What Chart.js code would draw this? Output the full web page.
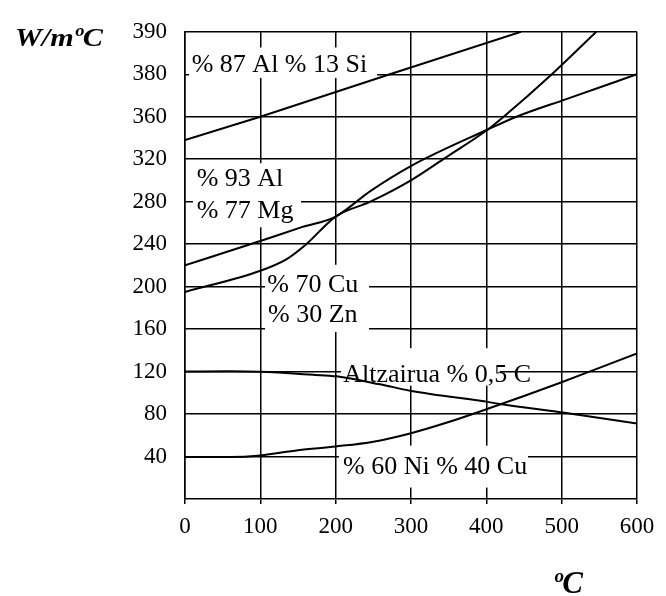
<!DOCTYPE html>
<html>
<head>
<meta charset="utf-8">
<script src="https://cdn.jsdelivr.net/npm/chart.js@4/dist/chart.umd.min.js"></script>
<style>
  html, body { margin: 0; padding: 0; background: #fff; }
  #wrap { width: 666px; height: 596px; }
</style>
</head>
<body>
<div id="wrap"><canvas id="chart" width="666" height="596"></canvas></div>
<script>
// Temperature axis (ºC) and conductivity axis (W/mºC) tick labels
const temperatureTicks = [0, 100, 200, 300, 400, 500, 600];
const conductivityTicks = [40, 80, 120, 160, 200, 240, 280, 320, 360, 380, 390];

// % 87 Al % 13 Si
const alSiTemp = [0, 100, 272, 446];
const alSiK    = [338, 360, 380, 390];

// % 93 Al % 77 Mg
const alMgTemp = [0, 100, 155, 200, 246, 301, 402, 440, 507, 600];
const alMgK    = [220, 243, 256, 266, 290, 314, 348, 360, 368.4, 380];

// % 70 Cu % 30 Zn
const cuZnTemp = [0, 100, 135, 161, 200, 246, 301, 347, 402, 423, 487, 546];
const cuZnK    = [195, 215, 226, 240, 266, 280, 300.6, 322, 348, 360, 380, 390];

// Altzairua % 0,5 C
const steelTemp = [0, 60, 100, 170, 201, 259, 299, 405, 418, 506, 600];
const steelK    = [120, 120.3, 119.8, 117, 115.5, 108, 102, 91, 89.5, 81, 71];

// % 60 Ni % 40 Cu
const niCuTemp = [0, 60, 100, 150, 200, 250, 300, 350, 400, 450, 500, 550, 600];
const niCuK    = [39.5, 39.5, 41, 46, 49.5, 54, 62, 72.5, 84.5, 97, 110, 123.5, 137];

// The conductivity axis has evenly spaced grid lines, but the last two
// steps are labelled 360 -> 380 -> 390, so values above 360 are stretched.
function yPos(v) {
  if (v <= 360) return v;
  if (v <= 380) return 360 + (v - 360) * 2;
  return 400 + (v - 380) * 4;
}

const FONT = 'Liberation Serif';

function series(temps, ks, smooth) {
  return {
    data: temps.map((t, i) => ({ x: t, y: yPos(ks[i]) })),
    borderColor: '#000',
    borderWidth: 2,
    pointRadius: 0,
    fill: false,
    tension: 0,
    cubicInterpolationMode: smooth ? 'monotone' : 'default'
  };
}

// Curve captions (anchored in data units) and the white patches behind them
const captions = [
  { text: '% 87 Al % 13 Si',   t: 8.9,   k: 380.5 },
  { text: '% 93 Al',           t: 15.5,  k: 294.4 },
  { text: '% 77 Mg',           t: 15.5,  k: 264.4 },
  { text: '% 70 Cu',           t: 109.3, k: 194.7 },
  { text: '% 30 Zn',           t: 110.2, k: 167.1 },
  { text: 'Altzairua % 0,5 C', t: 210.1, k: 110.4 },
  { text: '% 60 Ni % 40 Cu',   t: 209.7, k: 23.1 }
];
const patches = [
  { t0: 5.3,   t1: 254.9, k0: 378.3, k1: 386.3 },
  { t0: 10.6,  t1: 154,   k0: 255.9, k1: 316.3 },
  { t0: 106.2, t1: 244.3, k0: 157.2, k1: 220.6 },
  { t0: 207,   t1: 418,   k0: 106.8, k1: 142 },
  { t0: 204.4, t1: 455.3, k0: 10.8,  k1: 50.3 }
];

// Draws a string squeezed or widened to a given width
function fitText(ctx, text, x, y, width) {
  const w = ctx.measureText(text).width;
  ctx.save();
  ctx.translate(x, y);
  ctx.scale(width / w, 1);
  ctx.fillText(text, 0, 0);
  ctx.restore();
}

const captionLayer = {
  id: 'captionLayer',
  beforeDatasetsDraw(chart) {
    const { ctx, scales: { x, y } } = chart;
    ctx.save();
    ctx.fillStyle = '#fff';
    patches.forEach(p => {
      const x0 = x.getPixelForValue(p.t0), x1 = x.getPixelForValue(p.t1);
      const y0 = y.getPixelForValue(yPos(p.k1)), y1 = y.getPixelForValue(yPos(p.k0));
      ctx.fillRect(x0, y0, x1 - x0, y1 - y0);
    });
    ctx.fillStyle = '#000';
    ctx.font = '26px "' + FONT + '"';
    ctx.textAlign = 'left';
    ctx.textBaseline = 'alphabetic';
    captions.forEach(c => {
      ctx.fillText(c.text, x.getPixelForValue(c.t), y.getPixelForValue(yPos(c.k)));
    });
    ctx.restore();
  },
  afterDraw(chart) {
    const { ctx } = chart;
    ctx.save();
    ctx.fillStyle = '#000';
    ctx.textAlign = 'left';
    ctx.textBaseline = 'alphabetic';
    ctx.font = 'italic bold 26px "' + FONT + '"';
    fitText(ctx, 'W/mºC', 15, 46, 88);
    ctx.font = 'italic bold 31px "' + FONT + '"';
    ctx.fillText('ºC', 553, 593);
    ctx.restore();
  }
};

new Chart(document.getElementById('chart'), {
  type: 'line',
  data: {
    datasets: [
      series(alSiTemp, alSiK, false),
      series(alMgTemp, alMgK, true),
      series(cuZnTemp, cuZnK, true),
      series(steelTemp, steelK, true),
      series(niCuTemp, niCuK, true)
    ]
  },
  options: {
    responsive: false,
    animation: false,
    devicePixelRatio: 1,
    layout: { padding: { top: 20, right: 29, left: 0, bottom: 0 } },
    plugins: { legend: { display: false }, tooltip: { enabled: false } },
    scales: {
      x: {
        type: 'linear',
        min: temperatureTicks[0],
        max: temperatureTicks[temperatureTicks.length - 1],
        afterBuildTicks(scale) { scale.ticks = temperatureTicks.map(v => ({ value: v })); },
        afterFit(scale) { scale.height = 97; },
        ticks: { padding: 9, autoSkip: false, maxRotation: 0, color: '#000',
                 font: { family: FONT, size: 23 },
                 callback: (v, i) => String(temperatureTicks[i]) },
        grid: { color: '#000', lineWidth: 1.5, drawTicks: true, tickLength: 5 },
        border: { color: '#000', width: 1.5 }
      },
      y: {
        type: 'linear',
        min: 0,
        max: yPos(conductivityTicks[conductivityTicks.length - 1]),
        afterBuildTicks(scale) { scale.ticks = conductivityTicks.map(v => ({ value: yPos(v) })); },
        afterFit(scale) { scale.width = 185; },
        ticks: { padding: 18, autoSkip: false, color: '#000',
                 font: { family: FONT, size: 23 },
                 callback: (v, i) => String(conductivityTicks[i]) },
        grid: { color: '#000', lineWidth: 1.5, drawTicks: false },
        border: { color: '#000', width: 1.5 }
      }
    }
  },
  plugins: [captionLayer]
});
</script>
</body>
</html>
